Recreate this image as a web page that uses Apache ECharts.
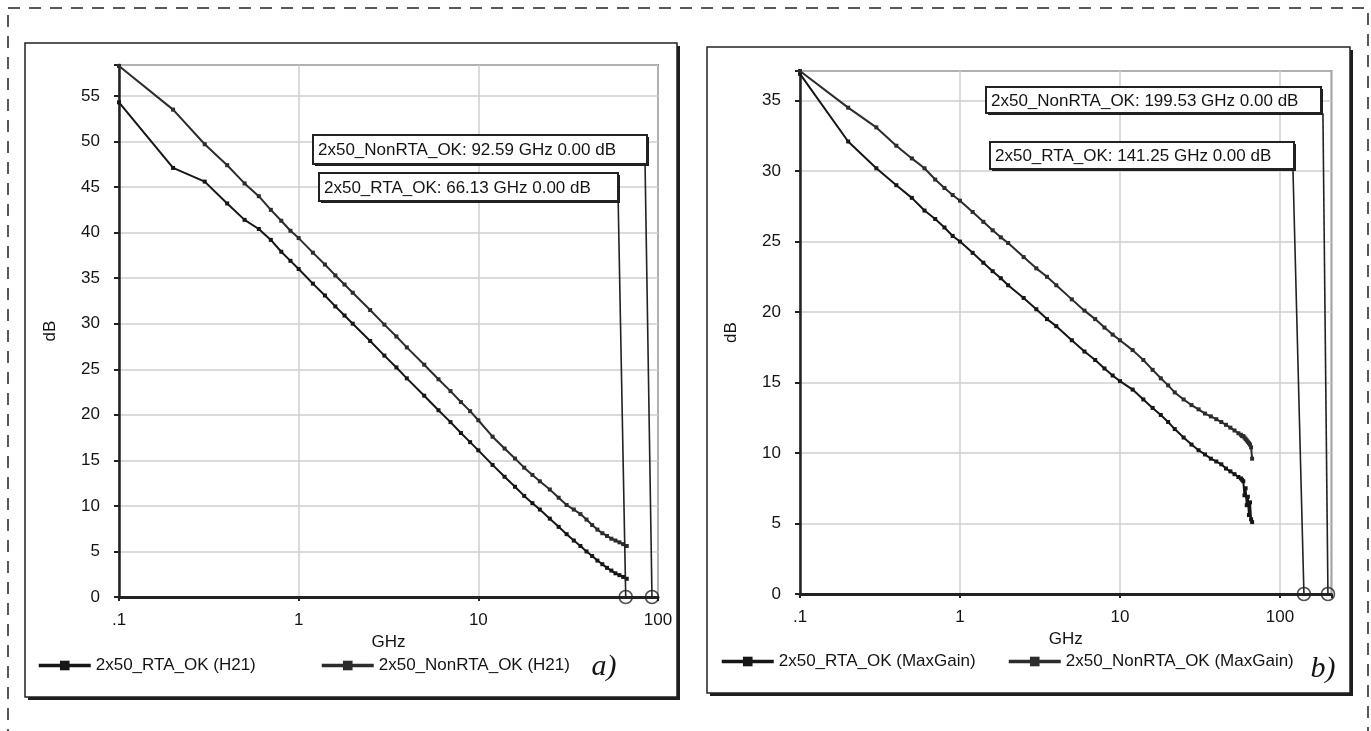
<!DOCTYPE html>
<html>
<head>
<meta charset="utf-8">
<script src="https://cdn.jsdelivr.net/npm/echarts@6/dist/echarts.min.js"></script>
<style>
  html, body { margin: 0; padding: 0; background: #fff; }
  #chart { width: 1371px; height: 731px; }
</style>
</head>
<body>
<div id="chart"></div>
<script>
// ---- a) H21 versus frequency (GHz, dB) ----
const freqH21 = [0.1, 0.2, 0.3, 0.4, 0.5, 0.6, 0.7, 0.8, 0.9, 1,
  1.2, 1.4, 1.6, 1.8, 2, 2.5, 3, 3.5, 4, 5, 6, 7, 8, 9, 10,
  12, 14, 16, 18, 20, 22, 25, 28, 31, 34, 37, 40, 43, 46, 49, 52, 55, 58, 61, 64, 67];
const rtaH21 = [54.3, 47.1, 45.6, 43.2, 41.4, 40.4, 39.2, 37.9, 36.9, 36.0,
  34.4, 33.1, 31.9, 30.9, 30.0, 28.1, 26.5, 25.2, 24.0, 22.1, 20.5, 19.2, 18.0, 17.0, 16.1,
  14.5, 13.2, 12.1, 11.1, 10.3, 9.6, 8.6, 7.7, 6.9, 6.2, 5.6, 5.0, 4.5, 4.0, 3.6, 3.2, 2.9, 2.6, 2.4, 2.2, 2.0];
const nonRtaH21 = [58.3, 53.5, 49.7, 47.4, 45.4, 44.0, 42.5, 41.3, 40.2, 39.4,
  37.8, 36.5, 35.3, 34.3, 33.4, 31.5, 29.9, 28.6, 27.4, 25.5, 23.9, 22.6, 21.4, 20.4, 19.4,
  17.6, 16.3, 15.2, 14.2, 13.4, 12.7, 11.8, 10.9, 10.1, 9.6, 9.1, 8.5, 7.9, 7.4, 7.0, 6.7, 6.4, 6.2, 6.0, 5.8, 5.6];

// ---- b) MaxGain versus frequency (GHz, dB) ----
const freqMaxGain = [0.1, 0.2, 0.3, 0.4, 0.5, 0.6, 0.7, 0.8, 0.9, 1,
  1.2, 1.4, 1.6, 1.8, 2, 2.5, 3, 3.5, 4, 5, 6, 7, 8, 9, 10,
  12, 14, 16, 18, 20, 22, 25, 28, 31, 34, 37, 40, 43, 46, 49, 52, 55,
  57, 58, 59, 60, 61, 62, 63, 64, 65, 66, 67];
const rtaMaxGain = [36.9, 32.1, 30.2, 29.0, 28.1, 27.2, 26.6, 26.0, 25.4, 25.0,
  24.2, 23.5, 22.9, 22.4, 21.9, 21.0, 20.2, 19.5, 19.0, 18.0, 17.2, 16.6, 16.0, 15.5, 15.1,
  14.5, 13.8, 13.2, 12.7, 12.2, 11.7, 11.1, 10.6, 10.2, 9.9, 9.6, 9.4, 9.2, 8.9, 8.7, 8.5, 8.3,
  8.2, 8.1, 8.0, 7.0, 7.5, 6.3, 6.9, 5.6, 6.5, 5.3, 5.1];
const nonRtaMaxGain = [37.1, 34.5, 33.1, 31.8, 30.9, 30.2, 29.4, 28.8, 28.3, 27.9,
  27.1, 26.4, 25.8, 25.3, 24.9, 23.9, 23.1, 22.5, 21.9, 20.9, 20.1, 19.5, 18.9, 18.4, 18.0,
  17.3, 16.6, 15.9, 15.3, 14.8, 14.3, 13.8, 13.4, 13.1, 12.8, 12.6, 12.4, 12.2, 12.0, 11.8, 11.6, 11.4,
  11.3, 11.2, 11.2, 11.1, 11.0, 10.9, 10.8, 10.7, 10.6, 10.4, 9.6];

// 0 dB crossing markers: [trace, GHz, dB]
const markersH21 = [['2x50_NonRTA_OK', 92.59, 0.00], ['2x50_RTA_OK', 66.13, 0.00]];
const markersMaxGain = [['2x50_NonRTA_OK', 199.53, 0.00], ['2x50_RTA_OK', 141.25, 0.00]];
// where each marker's leader line leaves its readout box: [GHz, dB]
const leadersH21 = [[84.7, 47.6], [60.0, 43.6]];
const leadersMaxGain = [[185.6, 34.1], [120.6, 30.1]];

const legendH21 = ['2x50_RTA_OK (H21)', '2x50_NonRTA_OK (H21)'];
const legendMaxGain = ['2x50_RTA_OK (MaxGain)', '2x50_NonRTA_OK (MaxGain)'];

// frequency tick labels by decade exponent
const xTickLabels = { '-1': '.1', '0': '1', '1': '10', '2': '100' };
const yStep = 5;

const FONT = '"Liberation Sans", Arial, Helvetica, sans-serif';
const INK = '#141414';

function decadeLabel(v) {
  const e = Math.log10(v);
  const r = Math.round(e);
  if (Math.abs(e - r) > 1e-6) return '';
  return xTickLabels[String(r)] || '';
}
function zip(xs, ys) { return xs.map((x, i) => [x, ys[i]]); }

function xAxisFor(grid, maxGHz) {
  return {
    type: 'log', logBase: 10, min: 0.1, max: maxGHz, gridIndex: grid,
    name: 'GHz', nameLocation: 'middle', nameGap: 37,
    nameTextStyle: { fontSize: 17, color: INK, fontFamily: FONT },
    axisLine: { show: true, onZero: false, lineStyle: { color: '#222', width: 3 } },
    axisTick: { show: true, length: 4, lineStyle: { color: '#222', width: 2 } },
    axisLabel: { margin: 15, fontSize: 17, color: INK, fontFamily: FONT, formatter: decadeLabel,
      showMinLabel: true, showMaxLabel: true },
    splitLine: { show: true, lineStyle: { color: '#cfcfcf', width: 1.5 } },
    minorTick: { show: false }, minorSplitLine: { show: false }
  };
}
function yAxisFor(grid, maxDb) {
  return {
    type: 'value', min: 0, max: maxDb, interval: yStep, gridIndex: grid,
    name: 'dB', nameLocation: 'middle', nameGap: 60,
    nameTextStyle: { fontSize: 17, color: INK, fontFamily: FONT },
    axisLine: { show: true, lineStyle: { color: '#222', width: 2.5 } },
    axisTick: { show: true, length: 5, lineStyle: { color: '#222', width: 2 } },
    axisLabel: { margin: 19, fontSize: 17, color: INK, fontFamily: FONT,
      formatter: v => (Math.abs(v / yStep - Math.round(v / yStep)) < 1e-9 ? String(v) : '') },
    splitLine: { show: true, lineStyle: { color: '#cfcfcf', width: 1.5 } }
  };
}

function traceSeries(name, grid, xs, ys, color) {
  return {
    name, type: 'line', xAxisIndex: grid, yAxisIndex: grid,
    data: zip(xs, ys),
    symbol: 'rect', symbolSize: 4, showSymbol: true,
    lineStyle: { color, width: 2 }, itemStyle: { color },
    emphasis: { disabled: true }, animation: false, z: 3
  };
}
function leaderSeries(grid, from, marker) {
  return {
    type: 'line', xAxisIndex: grid, yAxisIndex: grid, silent: true, clip: false,
    data: [from, [marker[1], marker[2]]], symbol: 'none',
    lineStyle: { color: '#222', width: 1.6 }, animation: false, z: 4
  };
}
function markerSeries(grid, markers) {
  return {
    type: 'scatter', xAxisIndex: grid, yAxisIndex: grid, silent: true, clip: false,
    data: markers.map(m => [m[1], m[2]]), symbol: 'circle', symbolSize: 13,
    itemStyle: { color: 'rgba(255,255,255,0)', borderColor: '#222', borderWidth: 1.6 },
    animation: false, z: 6
  };
}
// framed box with a solid drop shadow on its right and bottom
function shadowBox(x, y, w, h, off, lw, z) {
  return [
    { type: 'rect', z, shape: { x: x + off, y: y + off, width: w, height: h }, style: { fill: '#1e1e1e' } },
    { type: 'rect', z: z + 1, shape: { x, y, width: w, height: h },
      style: { fill: '#fff', stroke: '#222', lineWidth: lw } }
  ];
}
function readout(marker, x, y, w, h) {
  const txt = marker[0] + ': ' + marker[1].toFixed(2) + ' GHz ' + marker[2].toFixed(2) + ' dB';
  return {
    type: 'group', children: shadowBox(x, y, w, h, 2, 2, 20).concat([
      { type: 'text', z: 22, style: { text: txt, x: x + 5, y: y + h / 2 + 1, fill: INK,
          font: '17px ' + FONT, align: 'left', verticalAlign: 'middle' } }
    ])
  };
}

const legendCommon = {
  orient: 'horizontal', padding: 0, itemWidth: 52, itemHeight: 12,
  textStyle: { fontSize: 17, color: INK, fontFamily: FONT },
  lineStyle: { width: 3.5 }, selectedMode: false
};

const option = {
  backgroundColor: '#fff',
  animation: false,
  graphic: [
    { type: 'rect', z: -10, shape: { x: 8, y: 8, width: 1360, height: 760 },
      style: { fill: 'none', stroke: '#222', lineWidth: 1.5, lineDash: [12, 9] } }
  ].concat(
    shadowBox(25, 43, 652, 654, 3, 1.5, -8),
    shadowBox(707, 47, 643, 646, 3, 1.5, -8),
    [
      readout(markersH21[0], 313, 135, 334, 29),
      readout(markersH21[1], 319, 173, 299, 28),
      readout(markersMaxGain[0], 986, 87, 335, 26),
      readout(markersMaxGain[1], 990, 142, 304, 27),
      { type: 'text', z: 20, style: { text: 'a)', x: 604, y: 667, fill: INK,
          font: 'italic 30px "Liberation Serif", "Times New Roman", serif', align: 'center', verticalAlign: 'middle' } },
      { type: 'text', z: 20, style: { text: 'b)', x: 1323, y: 669, fill: INK,
          font: 'italic 30px "Liberation Serif", "Times New Roman", serif', align: 'center', verticalAlign: 'middle' } }
    ]
  ),
  grid: [
    { left: 119, top: 65, width: 539, height: 532, show: true, borderColor: '#222', borderWidth: 1.5, backgroundColor: 'rgba(0,0,0,0)' },
    { left: 800, top: 71, width: 531.5, height: 523, show: true, borderColor: '#222', borderWidth: 1.5, backgroundColor: 'rgba(0,0,0,0)' }
  ],
  xAxis: [xAxisFor(0, 100), xAxisFor(1, 210)],
  yAxis: [yAxisFor(0, 58.4), yAxisFor(1, 37.1)],
  legend: [
    Object.assign({ data: [legendH21[0]], left: 37, top: 657 }, legendCommon),
    Object.assign({ data: [legendH21[1]], left: 320, top: 657 }, legendCommon),
    Object.assign({ data: [legendMaxGain[0]], left: 720, top: 653 }, legendCommon),
    Object.assign({ data: [legendMaxGain[1]], left: 1007, top: 653 }, legendCommon)
  ],
  series: [
    traceSeries(legendH21[0], 0, freqH21, rtaH21, '#161616'),
    traceSeries(legendH21[1], 0, freqH21, nonRtaH21, '#2c2c2c'),
    traceSeries(legendMaxGain[0], 1, freqMaxGain, rtaMaxGain, '#161616'),
    traceSeries(legendMaxGain[1], 1, freqMaxGain, nonRtaMaxGain, '#2c2c2c'),
    leaderSeries(0, leadersH21[0], markersH21[0]),
    leaderSeries(0, leadersH21[1], markersH21[1]),
    leaderSeries(1, leadersMaxGain[0], markersMaxGain[0]),
    leaderSeries(1, leadersMaxGain[1], markersMaxGain[1]),
    markerSeries(0, markersH21),
    markerSeries(1, markersMaxGain)
  ]
};

const chart = echarts.init(document.getElementById('chart'), null, { renderer: 'canvas' });
chart.setOption(option);
</script>
</body>
</html>
